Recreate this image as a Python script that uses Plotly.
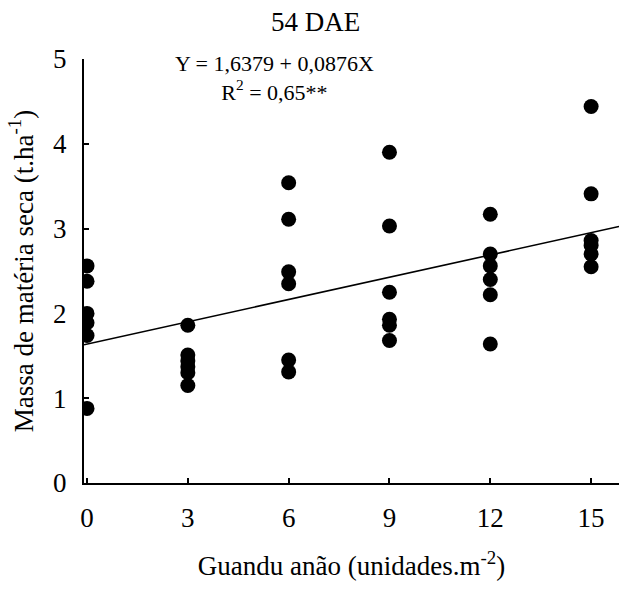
import plotly.graph_objects as go

# Data
x0 = [0, 0, 0, 0, 0, 0]
y0 = [2.56, 2.38, 2.00, 1.89, 1.74, 0.88]
x3 = [3, 3, 3, 3, 3, 3]
y3 = [1.86, 1.51, 1.44, 1.37, 1.30, 1.15]
x6 = [6, 6, 6, 6, 6, 6]
y6 = [3.54, 3.11, 2.49, 2.35, 1.45, 1.31]
x9 = [9, 9, 9, 9, 9, 9]
y9 = [3.90, 3.03, 2.25, 1.93, 1.86, 1.68]
x12 = [12, 12, 12, 12, 12, 12]
y12 = [3.17, 2.70, 2.56, 2.40, 2.22, 1.64]
x15 = [15, 15, 15, 15, 15, 15]
y15 = [4.44, 3.41, 2.86, 2.80, 2.70, 2.55]

intercept = 1.6379
slope = 0.0876

x_ticks = [0, 3, 6, 9, 12, 15]
y_ticks = [0, 1, 2, 3, 4, 5]
x_range = [-0.09, 15.83]
y_range = [0, 5]

xs = x0 + x3 + x6 + x9 + x12 + x15
ys = y0 + y3 + y6 + y9 + y12 + y15

font = "Liberation Serif"

fig = go.Figure()
fig.add_trace(go.Scatter(
    x=x_range, y=[intercept + slope * v for v in x_range],
    mode="lines", line=dict(color="black", width=1.6),
    hoverinfo="skip", showlegend=False))
fig.add_trace(go.Scatter(
    x=xs, y=ys, mode="markers",
    marker=dict(color="black", size=15, line=dict(width=0)),
    cliponaxis=True, showlegend=False))

axis_common = dict(
    showline=True, linecolor="black", linewidth=2,
    ticks="inside", ticklen=5, tickwidth=2, tickcolor="black",
    showgrid=False, zeroline=False, mirror=False,
    tickfont=dict(family=font, size=27, color="black"),
)

fig.update_xaxes(
    range=x_range, tickmode="array", tickvals=x_ticks,
    ticktext=[str(v) for v in x_ticks],
    title=dict(text="Guandu anão (unidades.m<sup>-2</sup>)",
               font=dict(family=font, size=27, color="black"), standoff=24),
    ticklabelstandoff=10,
    **axis_common)
fig.update_yaxes(
    range=y_range, tickmode="array", tickvals=y_ticks,
    ticktext=[str(v) for v in y_ticks],
    title=dict(text="Massa de matéria seca (t.ha<sup>-1</sup>)",
               font=dict(family=font, size=27, color="black"), standoff=12),
    ticklabelstandoff=10,
    **axis_common)

fig.update_layout(
    width=619, height=590,
    margin=dict(l=84, r=0, t=59, b=107),
    paper_bgcolor="white", plot_bgcolor="white",
    title=dict(text="54 DAE", x=0.51, xanchor="center", y=0.963, yanchor="middle",
               font=dict(family=font, size=27, color="black")),
    font=dict(family=font, color="black"),
    annotations=[
        dict(text="Y = 1,6379 + 0,0876X<br>R<sup>2</sup> = 0,65**",
             xref="paper", yref="paper", x=0.356, y=0.955,
             xanchor="center", yanchor="middle", showarrow=False,
             align="center",
             font=dict(family=font, size=22, color="black")),
    ],
)

fig.write_html("out.html")
